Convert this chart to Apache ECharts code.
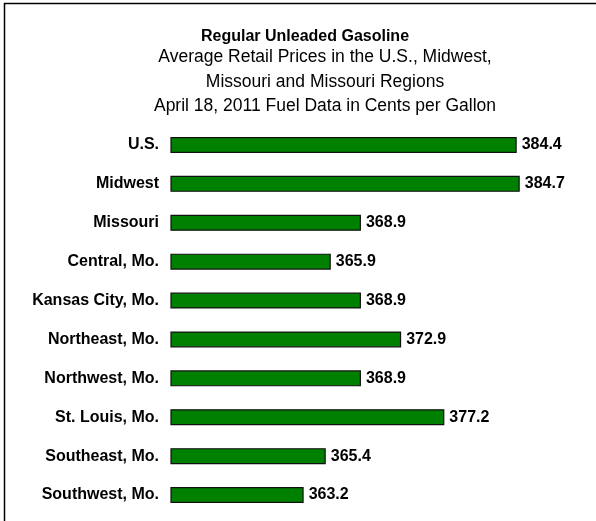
<!DOCTYPE html>
<html>
<head>
<meta charset="utf-8">
<script src="https://cdn.jsdelivr.net/npm/echarts@6/dist/echarts.min.js"></script>
<style>
html, body { margin: 0; padding: 0; background: #fff; }
#main { width: 596px; height: 521px; }
</style>
</head>
<body>
<div id="main"></div>
<script>
// regions, top to bottom
var regions = ['U.S.', 'Midwest', 'Missouri', 'Central, Mo.', 'Kansas City, Mo.',
	'Northeast, Mo.', 'Northwest, Mo.', 'St. Louis, Mo.', 'Southeast, Mo.', 'Southwest, Mo.'];
// cents per gallon
var prices = [384.4, 384.7, 368.9, 365.9, 368.9, 372.9, 368.9, 377.2, 365.4, 363.2];

var titleText = 'Regular Unleaded Gasoline';
var subLines = ['Average Retail Prices in the U.S., Midwest,',
	'Missouri and Missouri Regions',
	'April 18, 2011 Fuel Data in Cents per Gallon'];

var font = 'Liberation Sans, Arial, sans-serif';

var myChart = echarts.init(document.getElementById('main'));

// titre + cadre
var graphics = [{
	type : 'polyline',
	shape : { points : [ [ 4.5, 521 ], [ 4.5, 3.5 ], [ 596, 3.5 ] ] },
	style : { stroke : '#000', lineWidth : 1.5, fill : null }
}, {
	type : 'text',
	x : 305,
	y : 37,
	style : {
		text : titleText,
		fontFamily : font,
		fontSize : 16,
		fontWeight : 'bold',
		fill : '#000',
		textAlign : 'center',
		textVerticalAlign : 'middle'
	}
}];
var subY = [ 57.5, 82, 106 ];
for (var i = 0; i < subLines.length; i++) {
	graphics.push({
		type : 'text',
		x : 325,
		y : subY[i],
		style : {
			text : subLines[i],
			fontFamily : font,
			fontSize : 17.5,
			fill : '#000',
			textAlign : 'center',
			textVerticalAlign : 'middle'
		}
	});
}

myChart.setOption({
	animation : false,
	graphic : graphics,
	grid : {
		left : 171,
		right : 23,
		top : 125.5,
		bottom : 6.5,
		containLabel : false
	},
	xAxis : {
		type : 'value',
		min : 350,
		max : 390,
		show : false
	},
	yAxis : {
		type : 'category',
		inverse : true,
		data : regions,
		axisLine : { show : false },
		axisTick : { show : false },
		axisLabel : {
			margin : 12,
			color : '#000',
			fontFamily : font,
			fontSize : 16,
			fontWeight : 'bold'
		}
	},
	series : [ {
		type : 'bar',
		data : prices,
		barWidth : 16,
		itemStyle : {
			color : '#008000',
			borderColor : '#111',
			borderWidth : 1.2
		},
		label : {
			show : true,
			position : 'right',
			distance : 5,
			color : '#000',
			fontFamily : font,
			fontSize : 16,
			fontWeight : 'bold',
			formatter : function(p) {
				return p.value.toFixed(1);
			}
		}
	} ]
});
</script>
</body>
</html>
